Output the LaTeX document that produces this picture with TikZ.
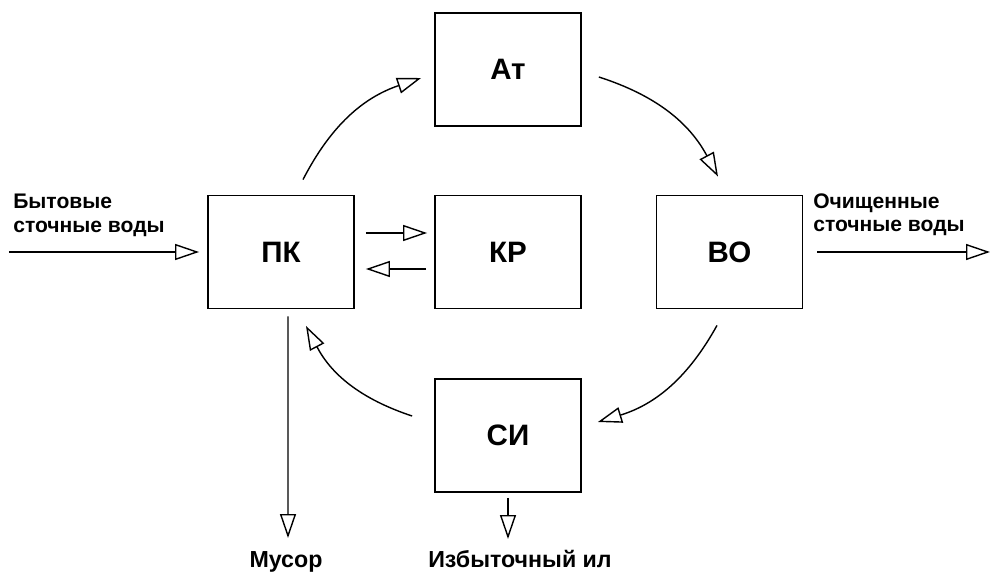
\documentclass[tikz,border=0pt]{standalone}
\usepackage{fontspec}
\setmainfont{Liberation Sans}
\usetikzlibrary{arrows.meta}
\tikzset{
	treatment scheme/.cd,
	unit/.style = {
		draw,
		line width = 1.3pt,
		minimum width = 3.65cm,
		minimum height = 2.825cm,
		font = \fontsize{21}{25}\selectfont\bfseries
	},
	flow/.style = {
		line width = 1pt,
		-{Triangle[open, length = 0.6cm, width = 0.4cm]}
	},
	caption/.style = {
		inner sep = 0,
		align = left,
		font = \fontsize{15}{17}\selectfont\bfseries
	},
}

\begin{document}
\begin{tikzpicture}
		\useasboundingbox (-12.7, 6.3) rectangle (12.1, -8.05);
		\node[treatment scheme/unit] (kr) at (0, 0) {КР};
		\node[treatment scheme/unit] (pk) at (-5.675, 0) {ПК};
		\node[treatment scheme/unit] (at) at (0, 4.5625) {Ат};
		\node[treatment scheme/unit] (vo) at (5.5375, 0) {ВО};
		\node[treatment scheme/unit] (si) at (0, -4.5875) {СИ};
		\coordinate (inflow) at (-12.475, 0);
		\coordinate (outflow) at (12.05, 0);
		\coordinate (waste) at (-5.5, -7.15);
		\coordinate (sludge) at (0, -7.175);
		\begin{scope}[treatment scheme/caption]
			\node[anchor = north west] (in text) at (-12.375, 1.455) {Бытовые\\сточные воды};
			\node[anchor = north west] (out text) at (7.625, 1.475) {Очищенные\\сточные воды};
			\begin{scope}[font = \fontsize{16.5}{19}\selectfont\bfseries]
				\node[anchor = base] (waste text) at (-5.55, -7.875) {Мусор};
				\node[anchor = base] (sludge text) at (0.3, -7.875) {Избыточный ил};
			\end{scope}
		\end{scope}
		% straight flows
		\draw[treatment scheme/flow, shorten >= 0.2cm] (inflow) -- (pk);
		\draw[treatment scheme/flow, shorten <= 0.35cm] (vo) -- (outflow);
		\draw[treatment scheme/flow, shorten <= 0.275cm, shorten >= 0.175cm] ([yshift = 0.475cm]pk.east) -- ([yshift = 0.475cm]kr.west);
		\draw[treatment scheme/flow, shorten <= 0.2cm, shorten >= 0.275cm] ([yshift = -0.425cm]kr.west) -- ([yshift = -0.425cm]pk.east);
		\draw[treatment scheme/flow, shorten <= 0.175cm] ([xshift = 0.175cm]pk.south) -- (waste);
		\draw[treatment scheme/flow, shorten <= 0.125cm] (si.south) -- (sludge);
		% the loop
		\draw[treatment scheme/flow] ([shift = {(0.55, 0.375)}]pk.north) to[bend left = 22] ([shift = {(-0.325, -0.2125)}]at.west);
		\draw[treatment scheme/flow] ([shift = {(0.425, -0.1875)}]at.east) to[bend left = 22] ([shift = {(-0.2875, 0.45)}]vo.north);
		\draw[treatment scheme/flow] ([shift = {(-0.3125, -0.4)}]vo.south) to[bend left = 22] ([shift = {(0.4, 0.3375)}]si.east);
		\draw[treatment scheme/flow] ([shift = {(-0.55, 0.4875)}]si.west) to[bend left = 22] ([shift = {(0.625, -0.4125)}]pk.south);
	\end{tikzpicture}
\end{document}
